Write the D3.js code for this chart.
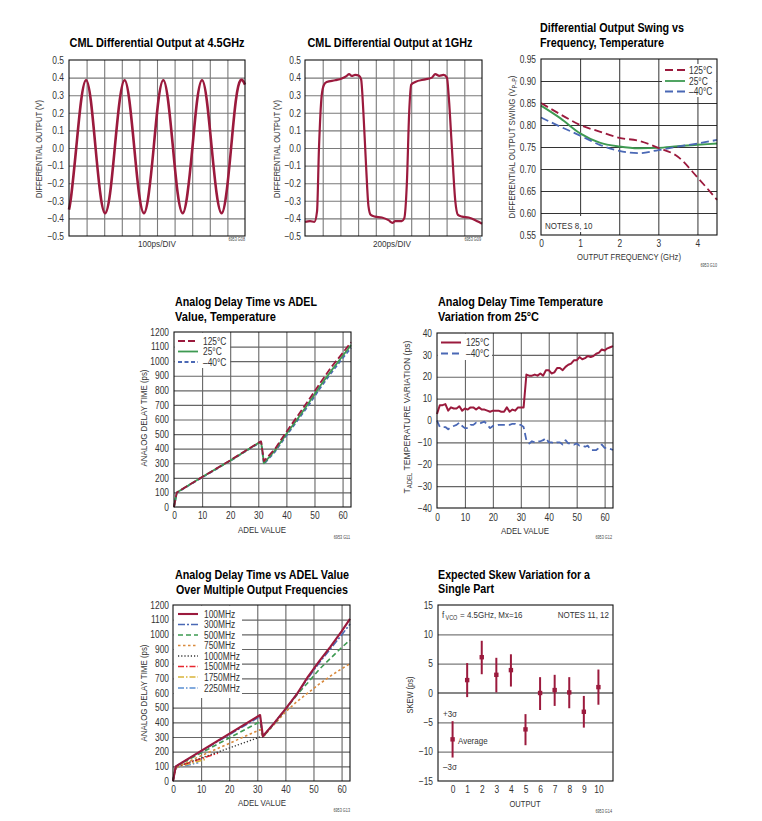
<!DOCTYPE html>
<html><head><meta charset="utf-8">
<script src="https://cdn.jsdelivr.net/npm/d3@7"></script>
<style>
body{margin:0;background:#fff;}
svg{display:block;}
</style></head><body>
<svg id="c" width="762" height="821"></svg>
<script>
// ---------------- DATA ----------------
// Panel 1: CML differential output at 4.5GHz (time ps, volts)
const cml45T = [0,14,41,69,97,124,151,178,205,233,260,288,316,343,371,398,426,453,481,508,536,563,591,618,646,673,701,728,756,783,811,839,867,894,921,948,975,1000];
const cml45V = [-0.35,-0.26,0.0,0.27,0.385,0.27,0.0,-0.26,-0.37,-0.26,0.0,0.27,0.385,0.27,0.0,-0.26,-0.37,-0.26,0.0,0.27,0.385,0.27,0.0,-0.26,-0.37,-0.26,0.0,0.27,0.385,0.27,0.0,-0.26,-0.37,-0.26,0.0,0.27,0.385,0.36];
// Panel 2: CML differential output at 1GHz
const cml1T = [0,57,106,136,158,189,215,245,340,415,472,498,528,566,611,634,660,690,717,743,792,868,943,989,1019,1094,1121,1151,1177,1200,1245,1358,1434,1472,1517,1566,1604,1623,1660,1698,1728,1774,1849,1925,1981,2000];
const cml1V = [-0.42,-0.415,-0.42,-0.36,0.0,0.3,0.36,0.375,0.385,0.395,0.41,0.42,0.41,0.415,0.41,0.39,0.2,-0.1,-0.33,-0.38,-0.39,-0.395,-0.41,-0.425,-0.415,-0.415,-0.40,-0.2,0.2,0.36,0.375,0.39,0.40,0.42,0.41,0.415,0.40,0.3,0.0,-0.3,-0.38,-0.39,-0.395,-0.41,-0.425,-0.43];
// Panel 3: swing vs frequency
const freqGHz = [0,0.5,1,1.5,2,2.5,3,3.5,4,4.5];
const swing125 = [0.850,0.824,0.800,0.785,0.771,0.764,0.748,0.728,0.681,0.630];
const swing25  = [0.844,0.815,0.781,0.760,0.751,0.747,0.748,0.752,0.755,0.758];
const swingM40 = [0.817,0.796,0.776,0.755,0.741,0.736,0.743,0.751,0.758,0.766];
const tempLabels3 = ["125°C","25°C","–40°C"];
// Panel 4: analog delay vs ADEL, temperature
const adelX = [0,1,10,20,30,31,32,36,40,44,48,52,56,60,63];
const delay125 = [0,100,205,320,440,450,315,400,515,625,735,850,960,1055,1130];
const delay25  = [0,100,205,318,438,448,300,390,500,605,715,830,935,1035,1110];
const delayM40 = [0,98,203,316,436,445,295,380,490,595,700,815,920,1020,1090];
// Panel 5: temperature variation from 25°C
const adelCodes = [0,1,2,3,4,5,6,7,8,9,10,11,12,13,14,15,16,17,18,19,20,21,22,23,24,25,26,27,28,29,30,31,32,33,34,35,36,37,38,39,40,41,42,43,44,45,46,47,48,49,50,51,52,53,54,55,56,57,58,59,60,61,62,63];
const tv125 = [3,7,7,7.5,4.5,6,5.5,5.5,6.5,4.5,5.5,5,6,6,5,6,5,5,4.5,4,4.5,4.5,4.5,4,4,6,4,5,4.5,6,6,6,21,20.5,20.5,21,20.5,21.5,20.5,23,23,21.5,22,24,24,23,24.5,25.5,26,27.5,27.5,29,28,28.5,29.5,29,29.5,30.5,31,32.5,32,33,33.5,34];
const tvM40 = [0,-3,-3,-3,-4,-3,-2.5,-2,-1,-2.5,-3.5,-3.5,-2,-2,-1,-1.5,-1,-0.5,-2,-3.5,-2.5,-2.5,-2,-2,-2,-2,-2,-1.5,-1.5,-2,-2,-3,-9,-10.5,-9.5,-10,-9.5,-9.5,-9,-8,-10,-10,-10.5,-10,-10,-11,-9,-10.5,-10.5,-11,-10.5,-11.5,-11.5,-12,-11.5,-13.5,-13.5,-13.5,-12.5,-11,-12.5,-12.5,-13,-13.5];
// Panel 6: delay vs ADEL over output frequencies
const freqNames = ["100MHz","300MHz","500MHz","750MHz","1000MHz","1500MHz","1750MHz","2250MHz"];
const f100X = [0,1,31,32,36,40,44,48,52,56,60,63];
const f100Y = [0,100,450,305,395,490,590,710,815,915,1020,1105];
const f300X = [0,1,31,32,36,40,44,48,52,56,60,63];
const f300Y = [0,100,440,305,395,490,590,700,805,900,995,1070];
const f500X = [0,1,31,32,36,40,44,48,52,56,60,63];
const f500Y = [0,100,405,300,390,485,585,670,760,835,910,960];
const f750X = [0,1,31,32,36,40,44,48,52,56,60,63];
const f750Y = [0,95,350,300,385,470,540,600,660,715,765,800];
const f1000X = [0,1,31,32];
const f1000Y = [0,95,300,300];
const f1500X = [0,1,16];
const f1500Y = [0,95,190];
const f1750X = [0,1,12];
const f1750Y = [0,92,150];
const f2250X = [0,1,9];
const f2250Y = [0,90,125];
// Panel 7: skew
const outputs = [0,1,2,3,4,5,6,7,8,9,10];
const skewAvg = [-7.9,2.2,6.1,3.1,3.9,-6.2,0.0,0.5,0.1,-3.2,1.0];
const skewHi  = [-4.8,5.1,8.9,6.0,6.6,-3.6,2.7,3.1,2.7,-0.5,4.0];
const skewLo  = [-11.0,-0.7,3.2,0.1,1.1,-8.9,-2.9,-2.2,-2.6,-5.9,-2.0];

// ---------------- DRAWING ----------------
const svg = d3.select('#c');
const FONT = '"Liberation Sans",Arial,Helvetica,sans-serif';
const RED = '#9b1a3d', GREEN = '#3e9a52', BLUE = '#4a68b5';
svg.style('font-family', FONT);

function txt(g, x, y, s, o = {}) {
  const t = g.append('text').attr('x', x).attr('y', y).text(s)
    .attr('font-size', o.size || 9.5).attr('fill', o.fill || '#333')
    .attr('text-anchor', o.anchor || 'start');
  if (o.bold) t.attr('font-weight', 'bold');
  if (o.w) t.attr('textLength', o.w).attr('lengthAdjust', 'spacingAndGlyphs');
  if (o.rot) t.attr('transform', `rotate(-90,${x},${y})`);
  return t;
}
function title(x, y, s, w, anchor) {
  return txt(svg, x, y, s, {size: 13, bold: true, fill: '#000', w: w, anchor: anchor || 'start'});
}

function panel(o) {
  const x = d3.scaleLinear().domain(o.xd).range([o.l, o.r]);
  const y = d3.scaleLinear().domain(o.yd).range([o.b, o.t]);
  const g = svg.append('g');
  const H = o.b - o.t, W = o.r - o.l;
  const gc = o.gc || '#7a7a7a', gw = o.gw || 1.1;
  if (o.gx) g.append('g').attr('transform', `translate(0,${o.b})`)
    .call(d3.axisBottom(x).tickValues(o.gx).tickSize(-H).tickFormat(''))
    .call(a => { a.select('.domain').remove(); a.selectAll('line').attr('stroke', gc).attr('stroke-width', gw); });
  if (o.gy) g.append('g').attr('transform', `translate(${o.l},0)`)
    .call(d3.axisLeft(y).tickValues(o.gy).tickSize(-W).tickFormat(''))
    .call(a => { a.select('.domain').remove(); a.selectAll('line').attr('stroke', gc).attr('stroke-width', gw); });
  const styleTicks = a => { a.select('.domain').remove(); a.attr('font-family', FONT);
    a.selectAll('text').attr('font-size', 10).attr('fill', '#333'); };
  if (o.yt) g.append('g').attr('transform', `translate(${o.l},0)`)
    .call(d3.axisLeft(y).tickValues(o.yt).tickSize(0).tickPadding(o.yp || 5).tickFormat(o.yf || d3.format('d')))
    .call(styleTicks);
  if (o.xt) g.append('g').attr('transform', `translate(0,${o.b})`)
    .call(d3.axisBottom(x).tickValues(o.xt).tickSize(0).tickPadding(o.xp || 5).tickFormat(o.xf || d3.format('d')))
    .call(styleTicks);
  const data = svg.append('g');
  const p = {x, y, g, data, W, H, o};
  p.frame = () => svg.append('rect').attr('x', o.l).attr('y', o.t).attr('width', W).attr('height', H)
    .attr('fill', 'none').attr('stroke', '#111').attr('stroke-width', 1.1);
  p.box = (x0, y0, x1, y1) => data.append('rect').attr('x', x0).attr('y', y0)
    .attr('width', x1 - x0).attr('height', y1 - y0).attr('fill', '#fff');
  p.line = (xs, ys, st) => {
    const pts = xs.map((v, i) => [v, ys[i]]);
    const gen = d3.line().x(d => x(d[0])).y(d => y(d[1])).curve(st.curve || d3.curveLinear);
    return data.append('path').attr('d', gen(pts)).attr('fill', 'none')
      .attr('stroke', st.color).attr('stroke-width', st.width || 1.8)
      .attr('stroke-dasharray', st.dash || null).attr('stroke-linejoin', 'round');
  };
  p.legend = (items, lx0, lx1, tx, ys) => {
    items.forEach((it, i) => {
      data.append('line').attr('x1', lx0).attr('x2', lx1).attr('y1', ys[i]).attr('y2', ys[i])
        .attr('stroke', it.color).attr('stroke-width', it.width || 1.8).attr('stroke-dasharray', it.dash || null);
      txt(data, tx, ys[i] + 3.6, it.label, {size: 10});
    });
  };
  return p;
}
function ylabel(cx, cy, s, w) {
  return txt(svg, cx + 3.3, cy, s, {size: 9.5, anchor: 'middle', rot: true, w: w});
}
function tag(xr, y, s) { txt(svg, xr, y, s, {size: 4.5, anchor: 'end', fill: '#444'}); }

const v1 = d3.format('.1f');
const tenths = [-0.5,-0.4,-0.3,-0.2,-0.1,0,0.1,0.2,0.3,0.4,0.5];

// ---- Panel 1 ----
title(157, 47, 'CML Differential Output at 4.5GHz', 175, 'middle');
{
  const p = panel({l: 69, r: 245, t: 60, b: 236, xd: [0, 1000], yd: [-0.5, 0.5],
    gx: [100,200,300,400,500,600,700,800,900], gy: tenths.slice(1, 10), yt: tenths, yf: v1, yp: 5});
  p.line(cml45T, cml45V, {color: RED, width: 2.6, curve: d3.curveNatural});
  p.frame();
  ylabel(39, 149, 'DIFFERENTIAL OUTPUT (V)', 98);
  txt(svg, 157, 246.5, '100ps/DIV', {size: 9.5, anchor: 'middle', w: 38});
  tag(245, 241, '6953 G08');
}
// ---- Panel 2 ----
title(390, 47, 'CML Differential Output at 1GHz', 165, 'middle');
{
  const p = panel({l: 305, r: 482, t: 60, b: 236, xd: [0, 2000], yd: [-0.5, 0.5],
    gx: [200,400,600,800,1000,1200,1400,1600,1800], gy: tenths.slice(1, 10), yt: tenths, yf: v1, yp: 4});
  p.line(cml1T, cml1V, {color: RED, width: 2.2, curve: d3.curveMonotoneX});
  p.frame();
  ylabel(277, 149, 'DIFFERENTIAL OUTPUT (V)', 98);
  txt(svg, 392, 246.5, '200ps/DIV', {size: 9.5, anchor: 'middle', w: 38});
  tag(481, 241, '6953 G09');
}
// ---- Panel 3 ----
title(540, 32, 'Differential Output Swing vs', 144);
title(540, 47, 'Frequency, Temperature', 124);
{
  const p = panel({l: 541, r: 717, t: 59, b: 235, xd: [0, 4.5], yd: [0.55, 0.95],
    gx: [1,2,3,4], gy: [0.6,0.65,0.7,0.75,0.8,0.85,0.9], gc: '#333', gw: 1,
    yt: [0.55,0.6,0.65,0.7,0.75,0.8,0.85,0.9,0.95], yf: d3.format('.2f'), yp: 5,
    xt: [0,1,2,3,4], xp: 5});
  p.box(662, 64, 716.5, 97);
  p.box(543, 216, 600, 232);
  p.line(freqGHz, swing25, {color: GREEN, width: 1.9, curve: d3.curveMonotoneX});
  p.line(freqGHz, swingM40, {color: BLUE, width: 1.8, dash: '8,4', curve: d3.curveMonotoneX});
  p.line(freqGHz, swing125, {color: RED, width: 1.8, dash: '8,4', curve: d3.curveMonotoneX});
  p.legend([{label: tempLabels3[0], color: RED, dash: '8,4'}, {label: tempLabels3[1], color: GREEN},
    {label: tempLabels3[2], color: BLUE, dash: '8,4'}], 665, 685, 689, [70, 81, 91.5]);
  txt(svg, 545, 229, 'NOTES 8, 10', {size: 9.5});
  p.frame();
  const t = svg.append('text').attr('transform', 'translate(515,147) rotate(-90)')
    .attr('text-anchor', 'middle').attr('font-size', 9.5).attr('fill', '#333')
    .attr('textLength', 143).attr('lengthAdjust', 'spacingAndGlyphs');
  t.append('tspan').text('DIFFERENTIAL OUTPUT SWING (V');
  t.append('tspan').text('P–P').attr('font-size', 6.5).attr('dy', 2);
  t.append('tspan').text(')').attr('dy', -2);
  txt(svg, 629, 260, 'OUTPUT FREQUENCY (GHz)', {size: 9.5, anchor: 'middle', w: 104});
  tag(717, 267, '6953 G10');
}
// ---- Panel 4 ----
title(175, 306, 'Analog Delay Time vs ADEL', 142);
title(175, 321, 'Value, Temperature', 101);
const delayTicks = [0,100,200,300,400,500,600,700,800,900,1000,1100,1200];
const adelTicks = [0,10,20,30,40,50,60];
{
  const p = panel({l: 174, r: 351, t: 332, b: 507, xd: [0, 63], yd: [0, 1200],
    gx: [10,20,30,40,50,60], gy: delayTicks.slice(1, 12), gc: '#666',
    yt: delayTicks, yp: 5, xt: adelTicks, xp: 5});
  p.box(174.5, 332.5, 230, 368);
  p.line(adelX, delayM40, {color: BLUE, width: 1.8, dash: '4,2.5'});
  p.line(adelX, delay25, {color: GREEN, width: 1.8});
  p.line(adelX, delay125, {color: RED, width: 1.8, dash: '7,3'});
  p.legend([{label: '125°C', color: RED, dash: '7,3'}, {label: '25°C', color: GREEN},
    {label: '–40°C', color: BLUE, dash: '4,2.5'}], 178, 198, 203, [341, 351.5, 362]);
  p.frame();
  ylabel(143.5, 418, 'ANALOG DELAY TIME (ps)', 97);
  txt(svg, 262, 532.5, 'ADEL VALUE', {size: 9.5, anchor: 'middle', w: 48});
  tag(350, 539, '6953 G11');
}
// ---- Panel 5 ----
title(438, 306, 'Analog Delay Time Temperature', 165);
title(438, 321, 'Variation from 25°C', 101);
{
  const tvTicks = [-40,-30,-20,-10,0,10,20,30,40];
  const p = panel({l: 437, r: 613, t: 333, b: 508, xd: [0, 63], yd: [-40, 40],
    gx: [10,20,30,40,50,60], gy: tvTicks.slice(1, 8), gc: '#666',
    yt: tvTicks, yp: 5, xt: adelTicks, xp: 6});
  p.box(437.5, 333.5, 492, 360);
  p.line(adelCodes, tvM40, {color: BLUE, width: 1.8, dash: '7,4'});
  p.line(adelCodes, tv125, {color: RED, width: 2});
  p.legend([{label: '125°C', color: RED, width: 2}, {label: '–40°C', color: BLUE, dash: '7,4'}],
    441, 461, 466, [342.5, 353.5]);
  p.frame();
  const t = svg.append('text').attr('transform', 'translate(410,417) rotate(-90)')
    .attr('text-anchor', 'middle').attr('font-size', 9.5).attr('fill', '#333')
    .attr('textLength', 153).attr('lengthAdjust', 'spacingAndGlyphs');
  t.append('tspan').text('T');
  t.append('tspan').text('ADEL').attr('font-size', 6.5).attr('dy', 2);
  t.append('tspan').text(' TEMPERATURE VARIATION (ps)').attr('dy', -2);
  txt(svg, 525, 533.5, 'ADEL VALUE', {size: 9.5, anchor: 'middle', w: 48});
  tag(612, 539, '6953 G12');
}
// ---- Panel 6 ----
title(262, 579, 'Analog Delay Time vs ADEL Value', 174, 'middle');
title(262, 594, 'Over Multiple Output Frequencies', 172, 'middle');
{
  const p = panel({l: 173, r: 350, t: 605, b: 781, xd: [0, 63], yd: [0, 1200],
    gx: [10,20,30,40,50,60], gy: delayTicks.slice(1, 12), gc: '#666',
    yt: delayTicks, yp: 4, xt: adelTicks, xp: 5});
  p.box(173.5, 605.5, 242, 698);
  const st = [
    {color: RED, width: 2.1},
    {color: BLUE, width: 1.6, dash: '7,2,2,2'},
    {color: GREEN, width: 1.6, dash: '5,3'},
    {color: '#d98a3d', width: 1.6, dash: '2.5,2.5'},
    {color: '#333', width: 1.4, dash: '1.2,2'},
    {color: '#e8262e', width: 1.6, dash: '6,2,1.5,2'},
    {color: '#d9b43a', width: 1.6, dash: '6,2,1.5,2'},
    {color: '#5a8ed2', width: 1.6, dash: '6,2,1.5,2'}
  ];
  const xsAll = [f100X, f300X, f500X, f750X, f1000X, f1500X, f1750X, f2250X];
  const ysAll = [f100Y, f300Y, f500Y, f750Y, f1000Y, f1500Y, f1750Y, f2250Y];
  for (let i = 7; i >= 0; i--) p.line(xsAll[i], ysAll[i], st[i]);
  p.legend(freqNames.map((n, i) => Object.assign({label: n}, st[i])), 178, 198, 204,
    [614, 624.5, 635, 645.5, 656, 666.5, 677, 688]);
  p.frame();
  ylabel(143.5, 693, 'ANALOG DELAY TIME (ps)', 97);
  txt(svg, 262, 806, 'ADEL VALUE', {size: 9.5, anchor: 'middle', w: 48});
  tag(350, 812, '6953 G13');
}
// ---- Panel 7 ----
title(438, 579, 'Expected Skew Variation for a', 152);
title(438, 593, 'Single Part', 56);
{
  const p = panel({l: 438, r: 613, t: 605, b: 781, xd: [-1, 11], yd: [-15, 15],
    gy: [-10,-5,5,10], gc: '#7a7a7a', gw: 1.4,
    yt: [-15,-10,-5,0,5,10,15], yp: 5, xt: outputs, xp: 5});
  p.data.append('line').attr('x1', p.x(-1)).attr('x2', p.x(11)).attr('y1', p.y(0)).attr('y2', p.y(0))
    .attr('stroke', '#111').attr('stroke-width', 1.1);
  outputs.forEach((o, i) => {
    p.data.append('line').attr('x1', p.x(o)).attr('x2', p.x(o)).attr('y1', p.y(skewLo[i])).attr('y2', p.y(skewHi[i]))
      .attr('stroke', RED).attr('stroke-width', 2);
    p.data.append('rect').attr('x', p.x(o) - 2.2).attr('y', p.y(skewAvg[i]) - 2.2).attr('width', 4.4).attr('height', 4.4)
      .attr('fill', RED);
  });
  p.frame();
  txt(svg, 442, 618, 'f', {size: 9.5});
  txt(svg, 445.5, 620, 'VCO', {size: 6.5});
  txt(svg, 460, 618, '= 4.5GHz, Mx=16', {size: 9.5});
  txt(svg, 609, 618, 'NOTES 11, 12', {size: 9.5, anchor: 'end'});
  txt(svg, 443, 717, '+3σ', {size: 9.5});
  txt(svg, 458, 744, 'Average', {size: 9.5});
  txt(svg, 443, 770, '–3σ', {size: 9.5});
  ylabel(410, 695, 'SKEW (ps)', 37);
  txt(svg, 525, 807, 'OUTPUT', {size: 9.5, anchor: 'middle', w: 31});
  tag(612, 813, '6953 G14');
}
// condense all remaining text horizontally (Helvetica Condensed look)
svg.selectAll('text').each(function () {
  const t = d3.select(this);
  if (!t.attr('textLength')) {
    const L = this.getComputedTextLength();
    if (L > 0) t.attr('textLength', L * 0.84).attr('lengthAdjust', 'spacingAndGlyphs');
  }
});
</script>
</body></html>
